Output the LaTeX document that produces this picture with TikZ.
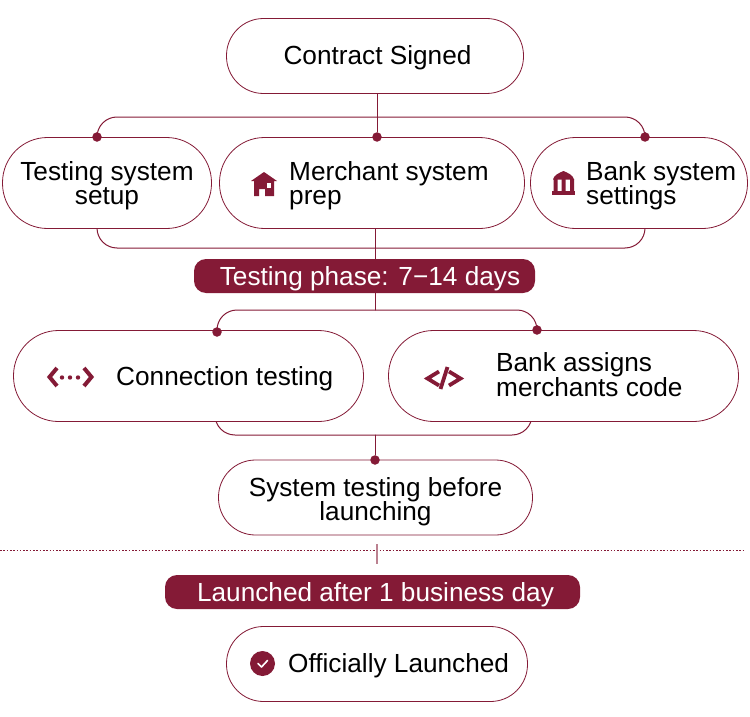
\documentclass[tikz,border=0pt]{standalone}
\usepackage{fontspec}
\setmainfont{Liberation Sans}
\usetikzlibrary{backgrounds}
\definecolor{wine}{HTML}{841A36}
\tikzset{
	box/.style={draw=wine,line width=.8pt,fill=white,rounded corners=#1,inner sep=0pt,align=center},
	box/.default=37pt,
	pill/.style={fill=wine,text=white,rounded corners=12pt,inner sep=0pt,minimum height=34pt,text height=18pt,text depth=0pt},
	dot/.style={circle,fill=wine,inner sep=0pt,minimum size=9.5pt},
	label/.style={anchor=base west,align=left,inner sep=0pt},
	link/.style={draw=wine,line width=1pt,rounded corners=20pt},
}
\begin{document}
\begin{tikzpicture}[x=1pt,y=-1pt,line join=round,line cap=round,font=\fontsize{26.2}{24.5}\selectfont]
	\useasboundingbox (0,0) rectangle (750,717);
	% boxes
	\node[box,minimum width=297pt,minimum height=75pt,text height=18pt,text depth=0pt] (contract) at (375,56) {\hspace*{5pt}Contract Signed};
	\node[box=45pt,minimum width=209pt,minimum height=91pt,text height=43pt,text depth=0pt] (setup) at (107,183) {Testing system\\setup};
	\node[box=45pt,minimum width=305pt,minimum height=91pt] (merchant) at (372,183) {};
	\node[box=45pt,minimum width=217pt,minimum height=91pt] (banksys) at (639,183) {};
	\node[box=45pt,minimum width=350pt,minimum height=91pt] (conn) at (188.5,376) {};
	\node[box=45pt,minimum width=350pt,minimum height=91pt] (assign) at (563.5,376) {};
	\node[box,minimum width=314pt,minimum height=75pt,text height=46pt,text depth=0pt] (syscheck) at (375.5,497.5) {System testing before\\launching};
	\node[box,minimum width=301pt,minimum height=75pt] (official) at (377,664) {};
	\node[pill,minimum width=341pt] (phase) at (364.5,276) {\hspace*{11pt}Testing phase: 7−14 days};
	\node[pill,minimum width=415pt] (launch) at (372.5,592) {\hspace*{6pt}Launched after 1 business day};
	% texts beside the icons
	\node[label] (merchanttext) at (289,204.5) {Merchant system\\prep};
	\node[label] (banktext) at (586,204.5) {Bank system\\settings};
	\node[label] (conntext) at (116,385) {Connection testing};
	\node[label] (assigntext) at (496,396) {Bank assigns\\merchants code};
	\node[label] (officialtext) at (288,672.5) {Officially Launched};
	% dots
	\node[dot] (dotsetup) at (97,137) {};
	\node[dot] (dotmerchant) at (377,137) {};
	\node[dot] (dotbank) at (645,137) {};
	\node[dot] (dotconn) at (217,332) {};
	\node[dot] (dotassign) at (537,330) {};
	\node[dot] (dotsys) at (375,460) {};
	\coordinate (topbar) at (377,117);
	\coordinate (lowbar) at (375,248);
	\coordinate (midbar) at (375,310);
	\coordinate (joinbar) at (375,435);
	\coordinate (connfoot) at (215,400);
	\coordinate (assignfoot) at (532,400);
	\coordinate (ruleleft) at (0,550);
	\coordinate (ruleright) at (745,550);
	\coordinate (ticktop) at (377,544);
	\coordinate (tickfoot) at (377,564);
	\begin{scope}[on background layer]
		\draw[link] (dotsetup) |- (topbar) -| (dotbank);
		\draw[link] (setup.south -| dotsetup) |- (lowbar) -| (banksys.south -| dotbank);
		\draw[link] (dotconn) |- (midbar) -| (dotassign);
		\draw[link] (connfoot) |- (joinbar) -| (assignfoot);
	\end{scope}
	\draw[wine,line width=1pt] (contract.south -| dotmerchant) -- (dotmerchant);
	\draw[wine,line width=1pt] (merchant.south -| lowbar) -- (lowbar |- phase.north);
	\draw[wine,line width=1pt] (lowbar |- phase.south) -- (midbar);
	\draw[wine,line width=1pt] (joinbar) -- (dotsys);
	\draw[wine,line width=1pt,line cap=butt,dash pattern=on 1.6pt off 1.7pt] (ruleleft) -- (ruleright);
	\draw[wine!55,line width=1.6pt,line cap=butt] (ticktop) -- (tickfoot);
	% house
	\fill[wine] (264,172) -- (277,181) -- (274,181) -- (274,196) -- (265,196) -- (265,189) -- (259,189) -- (259,196) -- (254,196) -- (254,181) -- (251,181) -- cycle;
	\fill[white] (267,183) rectangle (271,187.5);
	% bank
	\fill[wine] (552,191) rectangle (575,195);
	\fill[wine] (553,179.5) .. controls (554,175) and (559,173) .. (563.5,171) .. controls (568,173) and (573,175) .. (574,179.5) -- cycle;
	\fill[wine] (553.5,179) rectangle (557.5,192) (561.5,179) rectangle (565.5,192) (570,179) rectangle (574,192);
	% connection icon
	\draw[wine,line width=4pt,line cap=butt,line join=miter] (57,368) -- (49.5,377) -- (57,386);
	\draw[wine,line width=4pt,line cap=butt,line join=miter] (84,368) -- (91.5,377) -- (84,386);
	\foreach \xdot in {62,70,78}
		\fill[wine] (\xdot,377.5) circle (2.2pt);
	% code icon
	\draw[wine,line width=3.8pt,line cap=butt,line join=miter] (439,371.5) -- (427.5,378.5) -- (439,385.5);
	\draw[wine,line width=3.8pt,line cap=butt,line join=miter] (449,371.5) -- (460.5,378.5) -- (449,385.5);
	\draw[wine,line width=3.8pt,line cap=butt] (440.5,389) -- (447.5,367);
	% check
	\fill[wine] (262.5,663.5) circle (12.5pt);
	\draw[white,line width=1.6pt] (258,663.5) -- (261.5,667) -- (267.5,660.5);
\end{tikzpicture}
\end{document}
